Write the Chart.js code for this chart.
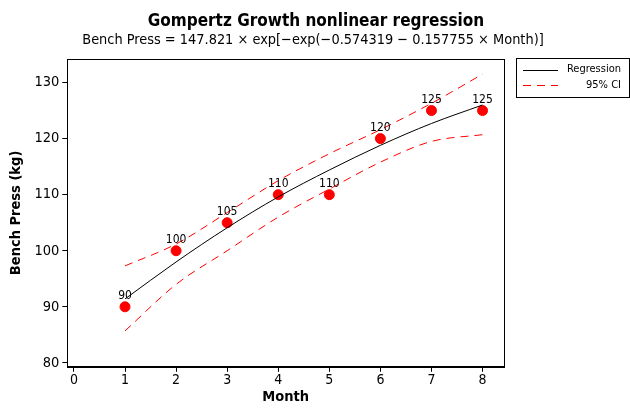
<!DOCTYPE html>
<html><head><meta charset="utf-8">
<script src="https://cdn.jsdelivr.net/npm/chart.js@4/dist/chart.umd.min.js"></script>
<style>html,body{margin:0;padding:0;background:#fff}#wrap{width:630px;height:408px}</style>
</head><body><div id="wrap"><canvas id="c" width="630" height="408"></canvas></div>
<script>
const months = [1, 2, 3, 4, 5, 6, 7, 8];
const benchPress = [90, 100, 105, 110, 110, 120, 125, 125];
const fitMonths = [1, 2, 3, 4, 5, 6, 7, 8];
const fitValues = [91.4, 98.0, 104.1, 109.6, 114.4, 118.8, 122.7, 126.0];
const ciMonths = [1, 2, 3, 4, 5, 6, 7, 8];
const ciUpper = [97.3, 101.2, 106.8, 112.5, 117.3, 121.6, 126.3, 131.5];
const ciLower = [85.7, 94.0, 100.0, 106.0, 111.0, 115.8, 119.5, 120.7];
const xTicks = [0, 1, 2, 3, 4, 5, 6, 7, 8];
const yTicks = [80, 90, 100, 110, 120, 130];
const titleText = 'Gompertz Growth nonlinear regression';
const subtitleText = 'Bench Press = 147.821 \u00d7 exp[\u2212exp(\u22120.574319 \u2212 0.157755 \u00d7 Month)]';
const legendLabels = ['Regression', '95% CI'];

const FONT = "'DejaVu Sans Condensed', 'DejaVu Sans', sans-serif";
const pts = (xs, ys) => xs.map((x, i) => ({x: x, y: ys[i]}));

const framePlugin = {
  id: 'frame',
  afterDraw(chart) {
    const ctx = chart.ctx, a = chart.chartArea;
    ctx.save();
    // titles
    ctx.fillStyle = '#000';
    ctx.textAlign = 'center'; ctx.textBaseline = 'alphabetic';
    ctx.font = 'bold 17px ' + FONT;
    ctx.fillText(titleText, 316, 26);
    ctx.font = '14.4px ' + FONT;
    ctx.fillText(subtitleText, 313, 44);
    // frame
    ctx.strokeStyle = '#000'; ctx.lineWidth = 1;
    ctx.strokeRect(Math.round(a.left) + 0.5, Math.round(a.top) + 0.5, Math.round(a.right - a.left), Math.round(a.bottom - a.top));
    // data labels
    const meta = chart.getDatasetMeta(3);
    ctx.font = '12px ' + FONT;
    ctx.textAlign = 'center'; ctx.textBaseline = 'bottom';
    meta.data.forEach((el, i) => {
      ctx.fillText(String(benchPress[i]), el.x, el.y - 5);
    });
    // legend box
    const lx = 516, ly = 58, lw = 113, lh = 39;
    ctx.strokeRect(lx + 0.5, ly + 0.5, lw, lh);
    ctx.font = '11px ' + FONT;
    ctx.textAlign = 'right'; ctx.textBaseline = 'middle';
    ctx.beginPath(); ctx.strokeStyle = '#000';
    ctx.moveTo(lx + 7, ly + 12.5); ctx.lineTo(lx + 42, ly + 12.5); ctx.stroke();
    ctx.fillText(legendLabels[0], lx + lw - 8, ly + 11);
    ctx.beginPath(); ctx.strokeStyle = '#ff0000'; ctx.setLineDash([8, 6]);
    ctx.moveTo(lx + 7, ly + 27.5); ctx.lineTo(lx + 42, ly + 27.5); ctx.stroke();
    ctx.setLineDash([]);
    ctx.fillText(legendLabels[1], lx + lw - 8, ly + 27);
    ctx.restore();
  }
};

new Chart(document.getElementById('c'), {
  type: 'scatter',
  data: {
    datasets: [
      {label: legendLabels[0], data: pts(fitMonths, fitValues), showLine: true, borderColor: '#000', borderWidth: 1, pointRadius: 0, cubicInterpolationMode: 'monotone', fill: false},
      {label: legendLabels[1], data: pts(ciMonths, ciUpper), showLine: true, borderColor: '#ff0000', borderWidth: 1, borderDash: [8, 6], pointRadius: 0, cubicInterpolationMode: 'monotone', fill: false},
      {label: '95% CI lower', data: pts(ciMonths, ciLower), showLine: true, borderColor: '#ff0000', borderWidth: 1, borderDash: [8, 6], pointRadius: 0, cubicInterpolationMode: 'monotone', fill: false},
      {label: 'Bench Press', data: pts(months, benchPress), showLine: false, backgroundColor: '#ff0000', borderColor: '#ff0000', pointRadius: 5, pointHoverRadius: 5}
    ]
  },
  options: {
    responsive: false,
    animation: false,
    layout: {padding: {left: 8, right: 126, top: 59, bottom: 2}},
    plugins: {
      legend: {display: false},
      tooltip: {enabled: false},
      title: {display: false},
      subtitle: {display: false}
    },
    scales: {
      x: {
        type: 'linear', min: -0.13, max: 8.42,
        afterBuildTicks: s => { s.ticks = xTicks.map(v => ({value: v})); },
        grid: {display: true, drawOnChartArea: false, drawTicks: true, tickLength: 5, color: '#000'},
        border: {display: true, color: '#000'},
        ticks: {color: '#000', font: {family: FONT, size: 14}, padding: 0},
        title: {display: true, text: 'Month', color: '#000', font: {family: FONT, size: 14.5, weight: 'bold'}, padding: {top: 0, bottom: 0}}
      },
      y: {
        type: 'linear', min: 79.3, max: 134.2,
        afterBuildTicks: s => { s.ticks = yTicks.map(v => ({value: v})); },
        grid: {display: true, drawOnChartArea: false, drawTicks: true, tickLength: 5, color: '#000'},
        border: {display: true, color: '#000'},
        ticks: {color: '#000', font: {family: FONT, size: 14.5}, padding: 3},
        title: {display: true, text: 'Bench Press (kg)', color: '#000', font: {family: FONT, size: 14.5, weight: 'bold'}, padding: {top: 0, bottom: 6}}
      }
    }
  },
  plugins: [framePlugin]
});
</script></body></html>
